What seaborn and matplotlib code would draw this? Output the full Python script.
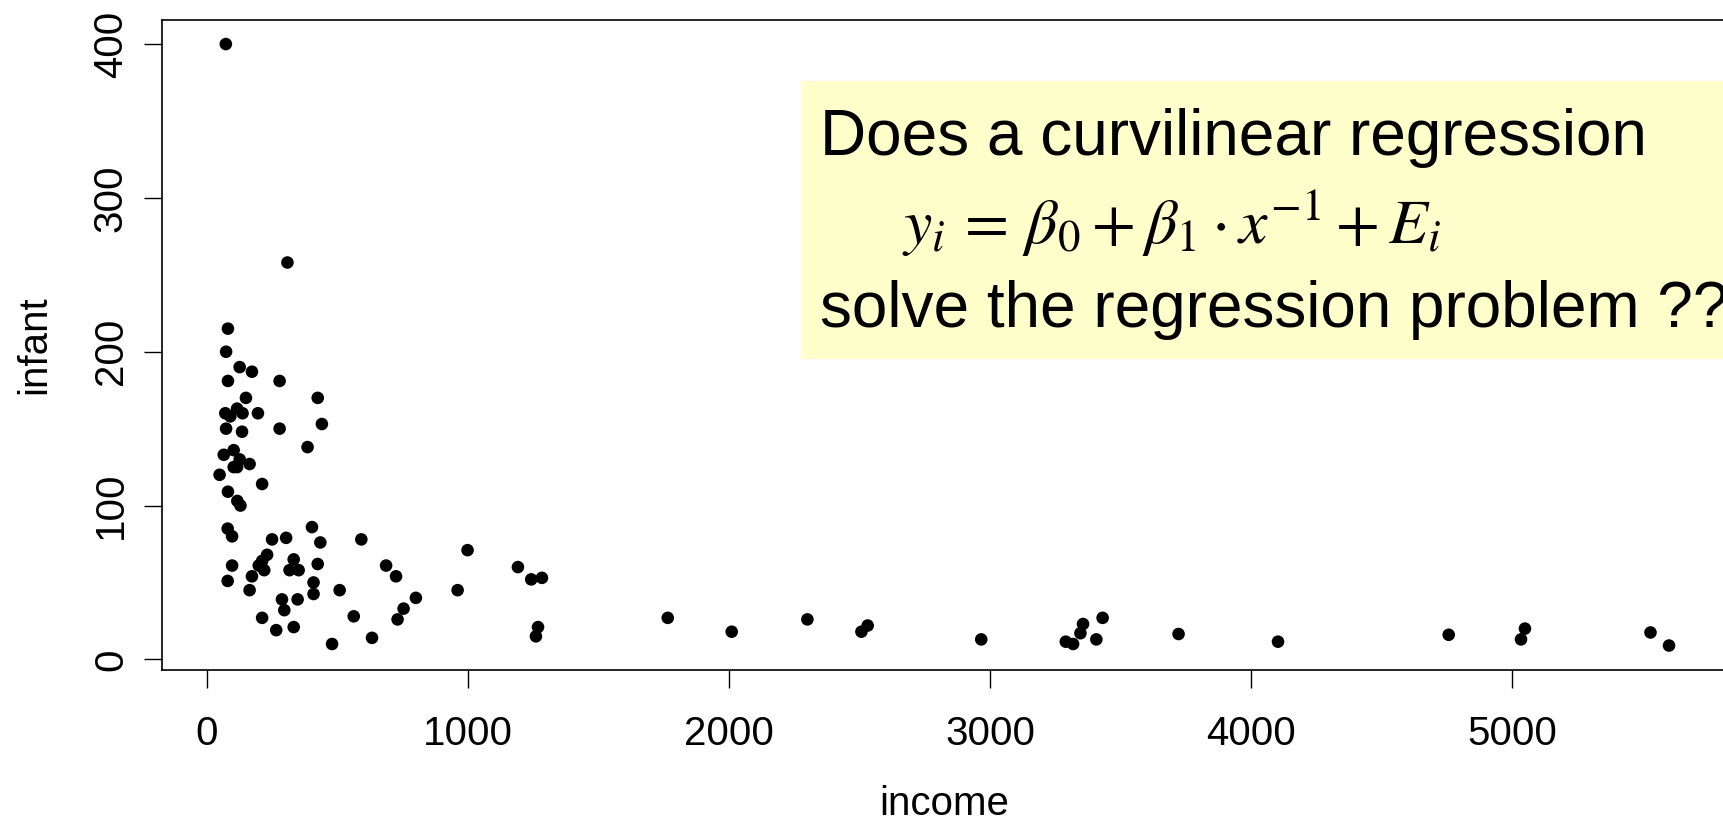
import matplotlib
matplotlib.use("Agg")
import matplotlib.pyplot as plt
from matplotlib.patches import Rectangle
import seaborn as sns
import pandas as pd

# ---- data ----
income = [72, 308,
          80, 73, 125, 172, 80, 278, 149, 424, 70, 89, 115, 136, 195, 440,
          73, 134, 278, 385, 102, 64, 125, 163, 102, 115, 48, 211, 80,
          116, 128,
          79, 96, 249, 303, 402, 434, 591, 998, 230, 211, 198, 219, 332, 316,
          351, 424, 96, 172, 79, 163, 408, 408, 508, 686, 724, 800, 753, 730,
          960, 1191, 1242, 1283, 1268, 1260, 287, 296, 347, 211, 265, 332,
          562, 479, 632,
          1765, 2010, 2300, 2507, 2531, 2966, 3290, 3318, 3346, 3356, 3407,
          3431, 3722, 4103, 4757, 5034, 5049, 5530, 5601]
infant = [400, 258,
          215, 200, 190, 187, 181, 181, 170, 170, 160, 158, 163, 160, 160, 153,
          150, 148, 150, 138, 136, 133, 130, 127, 125, 125, 120, 114, 109,
          103, 100,
          85, 80, 78, 79, 86, 76, 78, 71, 68, 64, 61, 58, 65, 58,
          58, 62, 61, 54, 51, 45, 50, 42.5, 45, 61, 54, 40, 33, 26,
          45, 60, 52, 53, 21, 15, 39, 32, 39, 27, 19, 21,
          28, 10, 14,
          27, 18, 26, 18, 22, 13, 11.5, 10, 17, 23, 13,
          27, 16.5, 11.5, 16, 13, 20, 17.5, 9]

x_ticks = [0, 1000, 2000, 3000, 4000, 5000]
y_ticks = [0, 100, 200, 300, 400]
x_label = "income"
y_label = "infant"
box_lines = ["Does a curvilinear regression",
             r"$y_i \,=\, \beta_0 + \beta_1 \cdot x^{-1} + E_i$",
             "solve the regression problem ??"]

df = pd.DataFrame({"income": income, "infant": infant})

sns.set_theme(style="white")
plt.rcParams["font.family"] = ["Liberation Sans", "DejaVu Sans"]
plt.rcParams["mathtext.fontset"] = "stix"

W, H = 1724, 822
fig = plt.figure(figsize=(W / 100, H / 100), dpi=100)
fig.patch.set_facecolor("white")

# axes placement (pixel geometry of the reference)
left_px, right_px, top_px, bot_px = 161.6, 1727.0, 20.0, 669.6
ax = fig.add_axes([left_px / W, 1 - bot_px / H,
                   (right_px - left_px) / W, (bot_px - top_px) / H])

sns.scatterplot(data=df, x="income", y="infant", ax=ax, color="black",
                s=82, edgecolor="none", linewidth=0, legend=False)

# R-style 4% range extension
xr = max(income) - min(income)
yr = max(infant) - min(infant)
ax.set_xlim(min(income) - 0.04 * xr, max(income) + 0.04 * xr)
ax.set_ylim(min(infant) - 0.04 * yr, max(infant) + 0.04 * yr)

ax.set_xticks(x_ticks)
ax.set_yticks(y_ticks)
ax.set_xticklabels([str(t) for t in x_ticks])
ax.set_yticklabels([str(t) for t in y_ticks])
for sp in ax.spines.values():
    sp.set_visible(True)
    sp.set_color("black")
    sp.set_linewidth(1.2)
ax.tick_params(axis="both", direction="out", length=13, width=1.0,
               colors="black", labelsize=29, left=True, bottom=True)
ax.tick_params(axis="x", pad=19.4)
ax.tick_params(axis="y", pad=9.8)
for lab in ax.get_yticklabels():
    lab.set_rotation(90)
    lab.set_va("center")

ax.set_xlabel(x_label, fontsize=29, color="black")
ax.set_ylabel(y_label, fontsize=29, color="black")
ax.xaxis.label.set_va("baseline")
ax.xaxis.set_label_coords(0.5, (bot_px - 815) / (bot_px - top_px))
ax.yaxis.label.set_va("baseline")
ax.yaxis.set_label_coords((45 - left_px) / (right_px - left_px), 0.5)

# pale yellow annotation box
box_top, box_bot, box_left = 81, 359, 801
fig.add_artist(Rectangle((box_left / W, 1 - box_bot / H), 1.0,
                         (box_bot - box_top) / H, transform=fig.transFigure,
                         facecolor="#FFFFCC", edgecolor="none", zorder=5))
fig.text(820 / W, 1 - 155 / H, box_lines[0], fontsize=46, va="baseline",
         ha="left", color="black", zorder=6)
fig.text(902 / W, 1 - 244 / H, box_lines[1], fontsize=46, va="baseline",
         ha="left", color="black", zorder=6)
fig.text(820 / W, 1 - 326.5 / H, box_lines[2], fontsize=46, va="baseline",
         ha="left", color="black", zorder=6)

fig.savefig("out.png", dpi=100, facecolor="white")
